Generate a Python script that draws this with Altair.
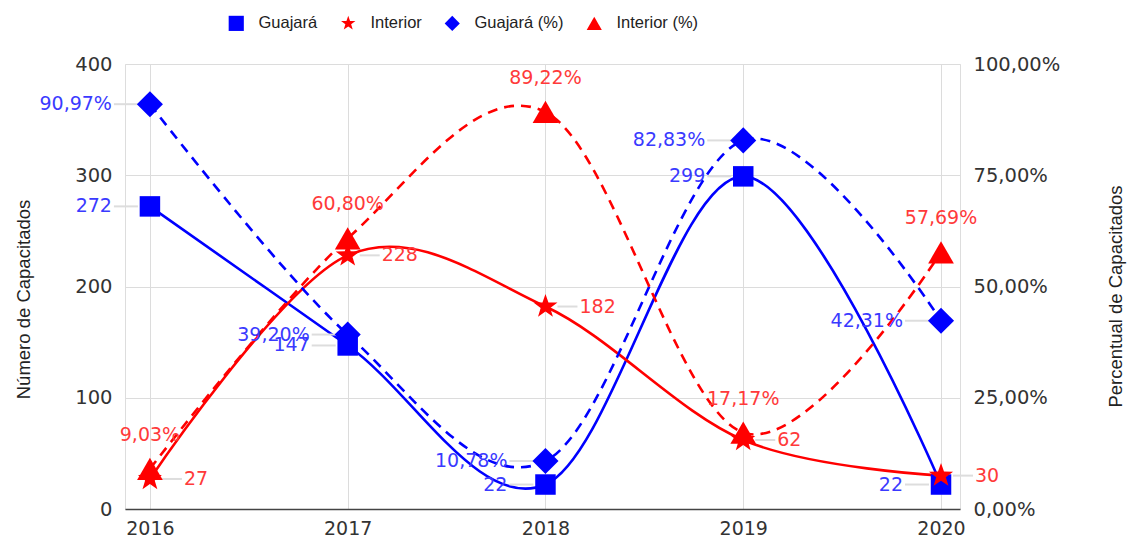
import altair as alt
import pandas as pd

years = [2016, 2017, 2018, 2019, 2020]
guajara = [272, 147, 22, 299, 22]
interior = [27, 228, 182, 62, 30]
guajara_pct = [90.97, 39.20, 10.78, 82.83, 42.31]
interior_pct = [9.03, 60.80, 89.22, 17.17, 57.69]

series_names = ["Guajará", "Interior", "Guajará (%)", "Interior (%)"]
series_colors = ["#0000ff", "#ff0000", "#0000ff", "#ff0000"]
star = "M0,-1L0.235,-0.324L0.951,-0.309L0.38,0.124L0.588,0.809L0,0.4L-0.588,0.809L-0.38,0.124L-0.951,-0.309L-0.235,-0.324Z"
series_shapes = ["square", star, "diamond", "triangle-up"]
marker_sizes = [420, 640, 680, 660]

FONT = "Liberation Sans"
NUMFONT = "DejaVu Sans"
BLUE_T = "#3a3aff"
RED_T = "#ff3a3a"

rows_c = []
for y, g, i in zip(years, guajara, interior):
    rows_c.append({"year": y, "series": "Guajará", "value": g, "label": str(g)})
    rows_c.append({"year": y, "series": "Interior", "value": i, "label": str(i)})
counts_df = pd.DataFrame(rows_c)

def pfmt(v):
    return f"{v:.2f}".replace(".", ",") + "%"

rows_p = []
for y, g, i in zip(years, guajara_pct, interior_pct):
    rows_p.append({"year": y, "series": "Guajará (%)", "value": g, "label": pfmt(g)})
    rows_p.append({"year": y, "series": "Interior (%)", "value": i, "label": pfmt(i)})
pct_df = pd.DataFrame(rows_p)

x_enc = alt.X(
    "year:Q",
    scale=alt.Scale(domain=[2015.874, 2020.096], nice=False, zero=False),
    axis=alt.Axis(
        values=years, format="d", title=None, grid=True, gridColor="#dcdcdc",
        ticks=False, domainColor="#444444", domainWidth=1.5, labelPadding=10,
        labelFontSize=19, labelColor="#333333", labelFont=NUMFONT,
    ),
)

legend_def = alt.Legend(
    title=None, orient="none", legendX=103, legendY=-49, direction="horizontal",
    labelFontSize=16.5, labelFont=FONT, labelColor="#222222", symbolSize=230,
    columnPadding=22, labelOffset=14, symbolStrokeWidth=0,
)
color_enc = alt.Color("series:N", scale=alt.Scale(domain=series_names, range=series_colors), legend=legend_def)
shape_enc = alt.Shape("series:N", scale=alt.Scale(domain=series_names, range=series_shapes), legend=legend_def)

y_left = alt.Y(
    "value:Q",
    scale=alt.Scale(domain=[0, 400], nice=False),
    axis=alt.Axis(
        values=[0, 100, 200, 300, 400], title="Número de Capacitados", grid=True,
        gridColor="#dcdcdc", domain=False, ticks=False, labelPadding=13,
        labelFontSize=19.5, labelColor="#333333", labelFont=NUMFONT,
        titleFont=FONT, titleFontSize=18.5, titleFontWeight="normal", titleColor="#222222",
        titlePadding=41, titleY=235,
    ),
)
y_right = alt.Y(
    "value:Q",
    scale=alt.Scale(domain=[0, 100], nice=False),
    axis=alt.Axis(
        orient="right", values=[0, 25, 50, 75, 100], title="Percentual de Capacitados",
        grid=False, domain=False, ticks=False, labelPadding=13,
        labelExpr="replace(format(datum.value, '.2f'), '.', ',') + '%'",
        labelFontSize=19.5, labelColor="#333333", labelFont=NUMFONT,
        titleFont=FONT, titleFontSize=18.5, titleFontWeight="normal", titleColor="#222222",
        titlePadding=66, titleAngle=270, titleY=232,
    ),
)

def series_line(base, name, color, y_enc, dash=None):
    kw = dict(interpolate="cardinal", strokeWidth=2.6, color=color)
    if dash:
        kw["strokeDash"] = dash
    return base.transform_filter(alt.datum.series == name).mark_line(**kw).encode(x=x_enc, y=y_enc)

def series_points(base, name, size):
    return base.transform_filter(alt.datum.series == name).mark_point(
        filled=True, opacity=1, size=size
    ).encode(x="year:Q", y="value:Q", color=color_enc, shape=shape_enc)

def leader(base, name, x0, x1):
    return base.transform_filter(alt.datum.series == name).mark_rule(
        color="#dddddd", strokeWidth=2, xOffset=x0, x2Offset=x1
    ).encode(x="year:Q", x2="year:Q", y="value:Q")

base_c = alt.Chart(counts_df)
line_g = series_line(base_c, "Guajará", "#0000ff", y_left)
line_i = series_line(base_c, "Interior", "#ff0000", "value:Q")
lead_g = leader(base_c, "Guajará", -36, -12)
lead_i = leader(base_c, "Interior", 12, 32)
pts_g = series_points(base_c, "Guajará", marker_sizes[0])
pts_i = series_points(base_c, "Interior", marker_sizes[1])
lab_g = base_c.transform_filter(alt.datum.series == "Guajará").mark_text(
    align="right", baseline="middle", dx=-38, fontSize=19, font=NUMFONT, color=BLUE_T
).encode(x="year:Q", y="value:Q", text="label:N")
lab_i = base_c.transform_filter(alt.datum.series == "Interior").mark_text(
    align="left", baseline="middle", dx=34, fontSize=19, font=NUMFONT, color=RED_T
).encode(x="year:Q", y="value:Q", text="label:N")
counts_layer = alt.layer(line_g, lead_g, lead_i, line_i, pts_g, pts_i, lab_g, lab_i)

base_p = alt.Chart(pct_df)
line_gp = series_line(base_p, "Guajará (%)", "#0000ff", y_right, dash=[10, 7])
line_ip = series_line(base_p, "Interior (%)", "#ff0000", "value:Q", dash=[10, 7])
lead_gp = leader(base_p, "Guajará (%)", -36, -12)
pts_gp = series_points(base_p, "Guajará (%)", marker_sizes[2])
pts_ip = series_points(base_p, "Interior (%)", marker_sizes[3])
lab_gp = base_p.transform_filter(alt.datum.series == "Guajará (%)").mark_text(
    align="right", baseline="middle", dx=-38, fontSize=19, font=NUMFONT, color=BLUE_T
).encode(x="year:Q", y="value:Q", text="label:N")
lab_ip = base_p.transform_filter(alt.datum.series == "Interior (%)").mark_text(
    align="center", baseline="middle", dy=-34, fontSize=19, font=NUMFONT, color=RED_T
).encode(x="year:Q", y="value:Q", text="label:N")
pct_layer = alt.layer(line_gp, lead_gp, line_ip, pts_gp, pts_ip, lab_gp, lab_ip)

chart = (
    alt.layer(counts_layer, pct_layer)
    .resolve_scale(y="independent")
    .properties(
        width=835, height=445,
        autosize=alt.AutoSizeParams(type="none"),
        padding={"left": 117, "top": 56, "right": 169, "bottom": 30},
    )
    .configure_view(stroke=None)
    .configure(background="white")
)

chart.save("out.html", embed_options={"renderer": "svg", "actions": False})
